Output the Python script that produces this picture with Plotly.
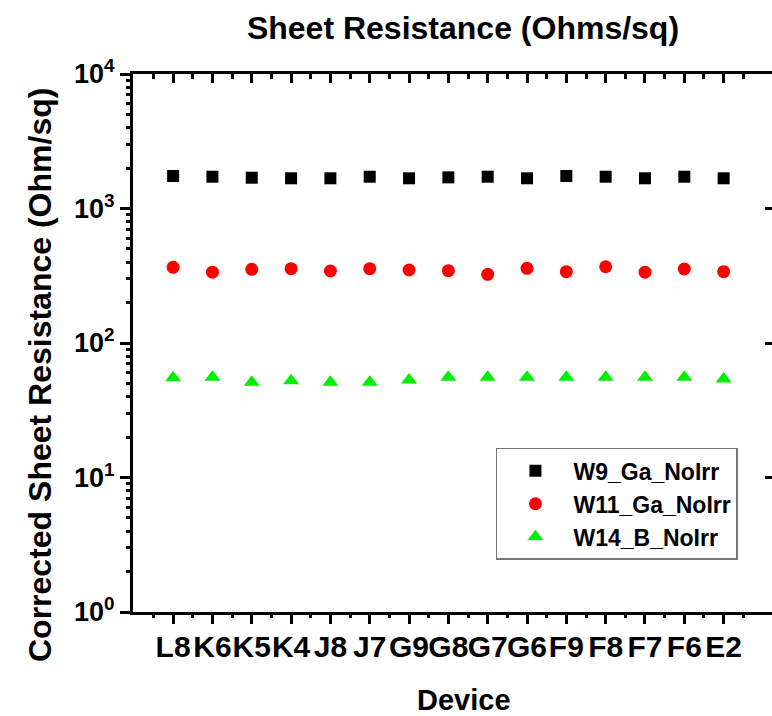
import plotly.graph_objects as go

# ---- data ----
devices = ["L8", "K6", "K5", "K4", "J8", "J7", "G9", "G8", "G7", "G6", "F9", "F8", "F7", "F6", "E2"]
w9_ga_noirr = [1745, 1723, 1694, 1677, 1677, 1723, 1677, 1704, 1723, 1677, 1745, 1723, 1677, 1723, 1677]
w11_ga_noirr = [365, 336, 353, 357, 343, 357, 349, 345, 324, 359, 339, 369, 336, 355, 339]
w14_b_noirr = [55.2, 55.6, 51.0, 52.4, 51.0, 51.0, 53.1, 55.6, 55.6, 55.6, 55.6, 55.6, 55.6, 55.6, 54.0]
series_names = ["W9_Ga_NoIrr", "W11_Ga_NoIrr", "W14_B_NoIrr"]
y_tick_vals = [1, 10, 100, 1000, 10000]
y_tick_text = ["10<sup>0</sup>", "10<sup>1</sup>", "10<sup>2</sup>", "10<sup>3</sup>", "10<sup>4</sup>"]
title_text = "Sheet Resistance (Ohms/sq)"
x_title = "Device"
y_title = "Corrected Sheet Resistance (Ohm/sq)"

FONT = "Liberation Sans, Arial, Helvetica, sans-serif"
x_pos = list(range(len(devices)))
x_range = [-1.02, 15.23]
minor_x = [i + 0.5 for i in range(-1, len(devices))]
minor_y = [m * 10 ** k for k in range(4) for m in range(2, 10)]

fig = go.Figure()
fig.add_trace(go.Scatter(x=x_pos, y=w9_ga_noirr, mode="markers", name=series_names[0],
                         marker=dict(symbol="square", size=12, color="#000000")))
fig.add_trace(go.Scatter(x=x_pos, y=w11_ga_noirr, mode="markers", name=series_names[1],
                         marker=dict(symbol="circle", size=13, color="#FF0000")))
fig.add_trace(go.Scatter(x=x_pos, y=w14_b_noirr, mode="markers", name=series_names[2],
                         marker=dict(symbol="triangle-up", size=14, color="#00EE00")))
# invisible helper traces so the extra tick-only axes are drawn
for xa, ya in [("x2", "y2"), ("x3", "y"), ("x4", "y"), ("x", "y3")]:
    fig.add_trace(go.Scatter(x=[x_pos[0]], y=[w9_ga_noirr[0]], xaxis=xa, yaxis=ya, mode="markers",
                             marker=dict(opacity=0), showlegend=False, hoverinfo="skip"))

tick_common = dict(tickcolor="black", tickwidth=2.5, showgrid=False, zeroline=False)

fig.update_layout(
    width=772, height=716,
    margin=dict(l=133, r=0, t=74, b=104),
    paper_bgcolor="white", plot_bgcolor="white",
    font=dict(family=FONT, color="black", weight="bold"),
    title=dict(text=title_text, x=463 / 772, xref="container", xanchor="center",
               y=1 - 28 / 716, yref="container", yanchor="middle",
               font=dict(family=FONT, size=32, weight="bold", color="black")),
    # bottom axis with major ticks and device labels
    xaxis=dict(range=x_range, tickmode="array", tickvals=x_pos, ticktext=devices, tickangle=0,
               ticks="outside", ticklen=9, ticklabelstandoff=-3,
               showline=True, linewidth=3, linecolor="black",
               tickfont=dict(family=FONT, size=30, weight="bold"), **tick_common),
    # top axis with inward major ticks
    xaxis2=dict(range=x_range, overlaying="x", side="top", anchor="y", tickmode="array", tickvals=x_pos,
                ticks="inside", ticklen=9, showticklabels=False,
                showline=True, linewidth=3, linecolor="black", **tick_common),
    # bottom minor ticks
    xaxis3=dict(range=x_range, overlaying="x", side="bottom", anchor="y", tickmode="array",
                tickvals=minor_x, ticks="outside", ticklen=5, showticklabels=False, showline=False,
                **tick_common),
    # top minor ticks (inward)
    xaxis4=dict(range=x_range, overlaying="x", side="top", anchor="y", tickmode="array",
                tickvals=minor_x, ticks="inside", ticklen=5, showticklabels=False, showline=False,
                **tick_common),
    yaxis=dict(type="log", range=[0, 4], tickmode="array", tickvals=y_tick_vals, ticktext=y_tick_text,
               ticks="outside", ticklen=10,
               showline=True, linewidth=3, linecolor="black",
               tickfont=dict(family=FONT, size=27, weight="bold"), **tick_common),
    # right side inward major ticks
    yaxis2=dict(type="log", range=[0, 4], overlaying="y", side="right", anchor="x",
                tickmode="array", tickvals=y_tick_vals[1:4], ticks="inside", ticklen=7,
                showticklabels=False, showline=False, **tick_common),
    # left minor ticks
    yaxis3=dict(type="log", range=[0, 4], overlaying="y", side="left", anchor="x",
                tickmode="array", tickvals=minor_y, ticks="outside", ticklen=6,
                showticklabels=False, showline=False, **tick_common),
    legend=dict(x=0.568, y=0.305, xanchor="left", yanchor="top", xref="paper", yref="paper",
                bgcolor="white", bordercolor="#777777", borderwidth=1.5, itemwidth=66,
                font=dict(family=FONT, size=23, weight="bold", color="black"), tracegroupgap=0),
    showlegend=True,
    annotations=[
        dict(text=x_title, x=(464 - 133) / 639, y=(612 - 700) / 538, xref="paper", yref="paper",
             xanchor="center", yanchor="middle", showarrow=False,
             font=dict(family=FONT, size=29, weight="bold", color="black")),
        dict(text=y_title, x=(40 - 133) / 639, y=(612 - 375) / 538, xref="paper", yref="paper",
             xanchor="center", yanchor="middle", showarrow=False, textangle=-90,
             font=dict(family=FONT, size=32, weight="bold", color="black")),
    ],
)

fig.write_html("out.html")
